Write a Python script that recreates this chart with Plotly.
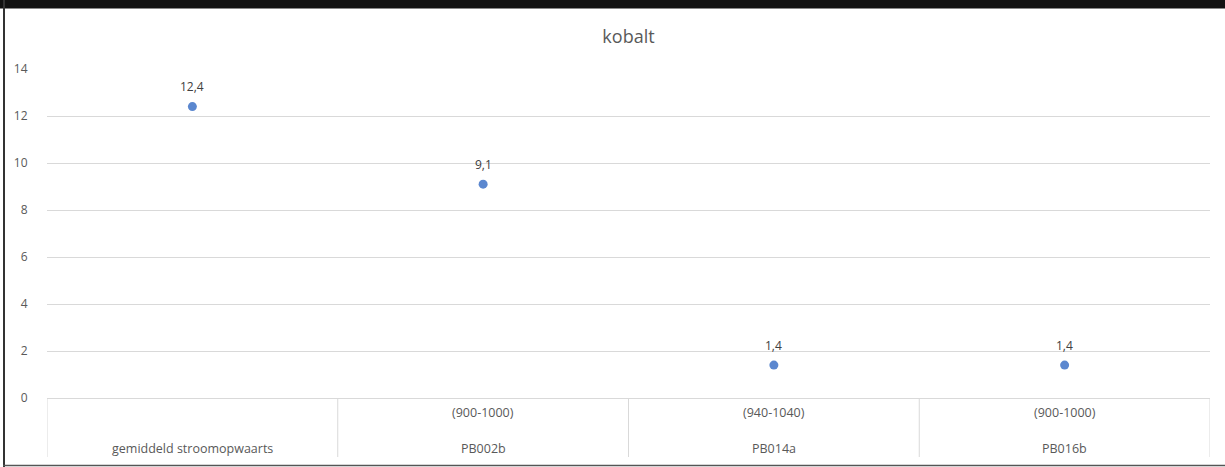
import plotly.graph_objects as go

# ---- data ----
locations = ["gemiddeld stroomopwaarts", "PB002b", "PB014a", "PB016b"]
depth_ranges = ["", "(900-1000)", "(940-1040)", "(900-1000)"]
kobalt = [12.4, 9.1, 1.4, 1.4]
y_ticks = [0, 2, 4, 6, 8, 10, 12, 14]

W, H = 1225, 467
L, R, T, B = 47, 15, 69, 69
pw, ph = W - L - R, H - T - B

def px_to_paper_y(py):
    return (H - B - py) / ph

def px_to_paper_x(px):
    return (px - L) / pw

idx = list(range(len(locations)))
labels = [f"{v:.1f}".replace(".", ",") for v in kobalt]
FONT = "Open Sans, sans-serif"

fig = go.Figure()
fig.add_trace(go.Scatter(
    x=idx, y=kobalt, mode="markers",
    marker=dict(color="#5B87CF", size=9),
    hoverinfo="skip", showlegend=False, cliponaxis=False,
))

shapes = []
grey = "#D9D9D9"
# category separators (table below the axis)
for i in range(len(locations) + 1):
    xb = i - 0.5
    shapes.append(dict(type="line", xref="x", yref="paper",
                       x0=xb, x1=xb, y0=0, y1=px_to_paper_y(457),
                       line=dict(color=grey, width=1)))
# outer frame
shapes.append(dict(type="rect", xref="paper", yref="paper",
                   x0=px_to_paper_x(-5), x1=px_to_paper_x(W + 5),
                   y0=px_to_paper_y(8.5), y1=px_to_paper_y(-5),
                   fillcolor="#111111", line=dict(width=0), layer="above"))
shapes.append(dict(type="line", xref="paper", yref="paper",
                   x0=px_to_paper_x(4), x1=px_to_paper_x(4),
                   y0=px_to_paper_y(0), y1=px_to_paper_y(467),
                   line=dict(color="#333333", width=2)))
shapes.append(dict(type="line", xref="paper", yref="paper",
                   x0=px_to_paper_x(3), x1=px_to_paper_x(W),
                   y0=px_to_paper_y(465.5), y1=px_to_paper_y(465.5),
                   line=dict(color="#555555", width=1.5)))

annotations = []
# data labels
for i, (v, lab) in enumerate(zip(kobalt, labels)):
    annotations.append(dict(x=i, y=v, xref="x", yref="y", text=lab, showarrow=False,
                            xanchor="center", yanchor="middle", yshift=20,
                            font=dict(family=FONT, size=12, color="#404040")))
# category labels
for i, (loc, rng) in enumerate(zip(locations, depth_ranges)):
    if rng:
        annotations.append(dict(x=i, y=px_to_paper_y(412), xref="x", yref="paper",
                                text=rng, showarrow=False, xanchor="center", yanchor="middle",
                                font=dict(family=FONT, size=12.5, color="#595959")))
    annotations.append(dict(x=i, y=px_to_paper_y(448), xref="x", yref="paper",
                            text=loc, showarrow=False, xanchor="center", yanchor="middle",
                            font=dict(family=FONT, size=12.5, color="#595959")))

fig.update_layout(
    width=W, height=H,
    margin=dict(l=L, r=R, t=T, b=B),
    paper_bgcolor="white", plot_bgcolor="white",
    title=dict(text="kobalt", x=(L + pw / 2) / W, xanchor="center",
               y=1 - 37 / H, yanchor="middle",
               font=dict(family=FONT, size=18, color="#595959")),
    xaxis=dict(range=[-0.5, len(locations) - 0.5], showgrid=False, zeroline=False,
               showticklabels=False, showline=False, fixedrange=True),
    yaxis=dict(range=[0, 14], tickvals=y_ticks, showgrid=True, gridcolor=grey,
               gridwidth=1, zeroline=True, zerolinecolor=grey, zerolinewidth=1,
               showline=False, ticks="outside", ticklen=16, tickcolor="rgba(0,0,0,0)",
               tickfont=dict(family=FONT, size=12, color="#595959")),
    shapes=shapes, annotations=annotations,
)

fig.write_html("out.html", config={"displayModeBar": False},
               post_script="document.body.style.margin='0';document.body.style.padding='0';")
